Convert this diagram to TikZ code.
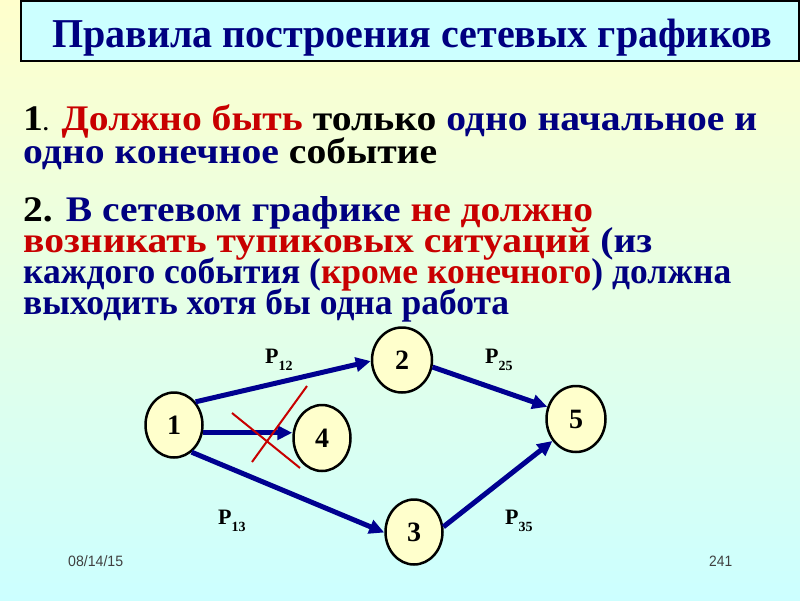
\documentclass[tikz,border=0pt]{standalone}
\usepackage{fontspec}
\setmainfont{Liberation Serif}
\newfontfamily\footfont{Liberation Sans}
\usetikzlibrary{shapes.geometric,arrows.meta}
\definecolor{navy}{HTML}{000080}
\definecolor{dred}{HTML}{C80000}
\definecolor{bgtop}{HTML}{FFFFCC}
\definecolor{bgbot}{HTML}{CCFFFF}
\definecolor{titlefill}{HTML}{CCFFFF}
\definecolor{arrowblue}{HTML}{000090}
\definecolor{nodefill}{HTML}{FFFFCC}
\tikzset{
  event/.style={ellipse, draw=black, line width=2.5pt, fill=nodefill, minimum width=57pt, minimum height=65pt, inner sep=0pt, font=\fontsize{28}{28}\selectfont\bfseries},
  work/.style={draw=arrowblue, line width=5pt, -{Triangle[length=15pt,width=14pt]}},
  cross/.style={draw=dred, line width=2pt},
  txtblock/.style={anchor=base west, inner sep=0pt, font=\fontsize{36}{36}\selectfont\bfseries},
  lbl/.style={anchor=base west, inner sep=0pt},
  foot/.style={anchor=base west, inner sep=0pt, text=black!75, font=\footfont\fontsize{15}{15}\selectfont}
}
\newcommand{\Plab}[1]{{\fontsize{22}{22}\selectfont\bfseries Р}\raisebox{-7pt}{\fontsize{14}{14}\selectfont\bfseries #1}}
\newcommand{\fitline}[2]{\hbox{\resizebox{#1}{\height}{#2}}}
\begin{document}
\begin{tikzpicture}[x=1pt,y=-1pt]
\useasboundingbox (0,0) rectangle (800,600);
\shade[top color=bgtop, bottom color=bgbot] (0,0) rectangle (800,600);
% title
\draw[fill=titlefill, line width=2.5pt] (21,1) rectangle (799,61);
\node[anchor=base west, inner sep=0pt, text=navy, font=\fontsize{41}{41}\selectfont\bfseries] (title) at (52,47) {\resizebox{720pt}{\height}{Правила построения сетевых графиков}};
% rule 1
\node[txtblock] (rule1) at (23,130) {\vtop{\baselineskip=33pt\lineskiplimit=-100pt\lineskip=0pt
  \fitline{734pt}{1{\fontsize{20}{20}\selectfont .} \textcolor{dred}{Должно быть} только \textcolor{navy}{одно начальное и}}
  \fitline{414pt}{\textcolor{navy}{одно конечное} событие}}};
% rule 2
\node[txtblock] (rule2) at (23,221) {\vtop{\baselineskip=31pt\lineskiplimit=-100pt\lineskip=0pt
  \fitline{570pt}{2. \textcolor{navy}{В сетевом графике} \textcolor{dred}{не должно}}
  \fitline{629pt}{\textcolor{dred}{возникать тупиковых ситуаций} \textcolor{navy}{(из}}
  \fitline{708pt}{\textcolor{navy}{каждого события (}\textcolor{dred}{кроме конечного}\textcolor{navy}{) должна}}
  \fitline{486pt}{\textcolor{navy}{выходить хотя бы одна работа}}}};
% events
\node[event] (n1) at (174,425) {1};
\node[event, minimum width=60pt] (n2) at (402,360) {2};
\node[event, minimum height=66pt] (n4) at (322,438) {4};
\node[event, minimum width=59pt, minimum height=66pt] (n5) at (576,419) {5};
\node[event] (n3) at (414,532) {3};
% works
\draw[work] (n1.47) -- (n2.182);
\draw[work] (n2.-13) -- (n5.157);
\draw[work] (n1.-15) -- (n1.-15 -| n4.west);
\draw[work] (n1.-57) -- (n3.181);
\draw[work] (n3.10) -- (n5.223);
% cross
\draw[cross] (232,413) -- (300,468);
\draw[cross] (307,386) -- (252,462);
% labels
\node[lbl] (p12) at (265,363) {\Plab{12}};
\node[lbl] (p25) at (485,363) {\Plab{25}};
\node[lbl] (p13) at (218,524) {\Plab{13}};
\node[lbl] (p35) at (505,524) {\Plab{35}};
% footer
\node[foot] (date) at (68,566) {\resizebox{55pt}{\height}{08/14/15}};
\node[foot] (num) at (709,566) {\resizebox{23pt}{\height}{241}};
\end{tikzpicture}
\end{document}
